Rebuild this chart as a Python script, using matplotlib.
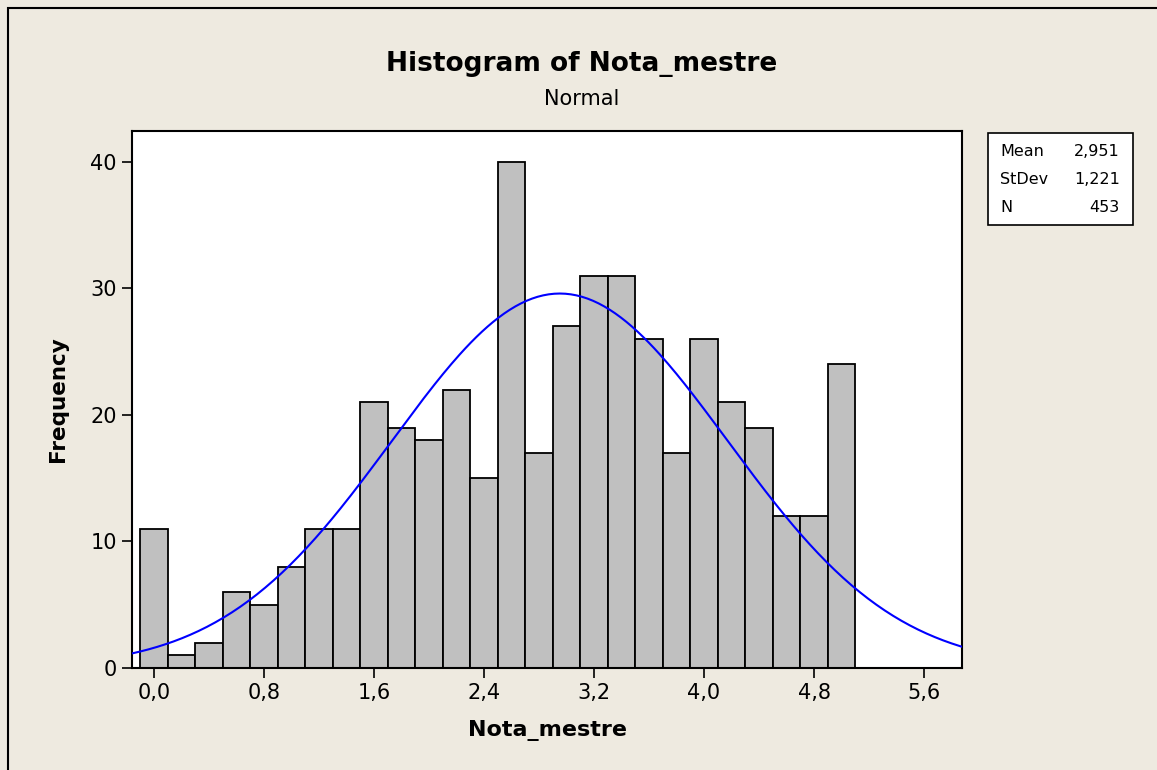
import numpy as np
import matplotlib.pyplot as plt
from matplotlib.patches import Rectangle

# dados do histograma
bin_centers = [0.0, 0.2, 0.4, 0.6, 0.8, 1.0, 1.2, 1.4, 1.6, 1.8, 2.0, 2.2, 2.4,
               2.6, 2.8, 3.0, 3.2, 3.4, 3.6, 3.8, 4.0, 4.2, 4.4, 4.6, 4.8, 5.0]
counts = [11, 1, 2, 6, 5, 8, 11, 11, 21, 19, 18, 22, 15,
          40, 17, 27, 31, 31, 26, 17, 26, 21, 19, 12, 12, 24]
bin_width = 0.2
mean = 2.951
stdev = 1.221
n = 453
xticks = [0.0, 0.8, 1.6, 2.4, 3.2, 4.0, 4.8, 5.6]
yticks = [0, 10, 20, 30, 40]

bg = '#EEEAE0'
plt.rcParams['font.family'] = ['DejaVu Sans']

fig = plt.figure(figsize=(11.57, 7.7), dpi=100, facecolor=bg)
ax = fig.add_axes([132/1157, 1 - 668/770, (962-132)/1157, (668-131)/770])
ax.set_facecolor('white')

ax.bar(bin_centers, counts, width=bin_width, color='#C0C0C0', edgecolor='black',
       linewidth=1.3, zorder=2)

# curva normal ajustada
xs = np.linspace(-0.16, 5.88, 300)
ys = n * bin_width / (stdev * np.sqrt(2 * np.pi)) * np.exp(-0.5 * ((xs - mean) / stdev) ** 2)
ax.plot(xs, ys, color='#0000FF', linewidth=1.5, zorder=3)

ax.set_xlim(-0.16, 5.876)
ax.set_ylim(0, 42.45)
ax.set_xticks(xticks)
ax.set_xticklabels([f'{t:.1f}'.replace('.', ',') for t in xticks])
ax.set_yticks(yticks)
ax.tick_params(labelsize=15, length=7, width=1.2, color='black', pad=4)
for s in ax.spines.values():
    s.set_linewidth(1.5)

ax.set_xlabel('Nota_mestre', fontsize=16, fontweight='bold', labelpad=12)
ax.set_ylabel('Frequency', fontsize=15.5, fontweight='bold', labelpad=16)

fig.text(582/1157, 1 - 64/770, 'Histogram of Nota_mestre', fontsize=19,
         fontweight='bold', ha='center', va='center')
fig.text(582/1157, 1 - 99/770, 'Normal', fontsize=15, ha='center', va='center')

# caixa de estatisticas
fig.add_artist(Rectangle((988/1157, 1 - 225/770), (1133-988)/1157, (225-133)/770,
                         transform=fig.transFigure, facecolor='white',
                         edgecolor='black', linewidth=1.2))
labels = ['Mean', 'StDev', 'N']
values = ['2,951', '1,221', '453']
for i, (lab, val) in enumerate(zip(labels, values)):
    yy = 1 - (152 + 28 * i) / 770
    fig.text(1000/1157, yy, lab, fontsize=11.5, ha='left', va='center')
    fig.text(1120/1157, yy, val, fontsize=11.5, ha='right', va='center')

# borda externa
fig.add_artist(Rectangle((8/1157, -0.1), 1.2, 1.1 - 8/770,
                         transform=fig.transFigure, facecolor='none',
                         edgecolor='black', linewidth=1.5))

fig.savefig('out.png', dpi=100, facecolor=bg)
